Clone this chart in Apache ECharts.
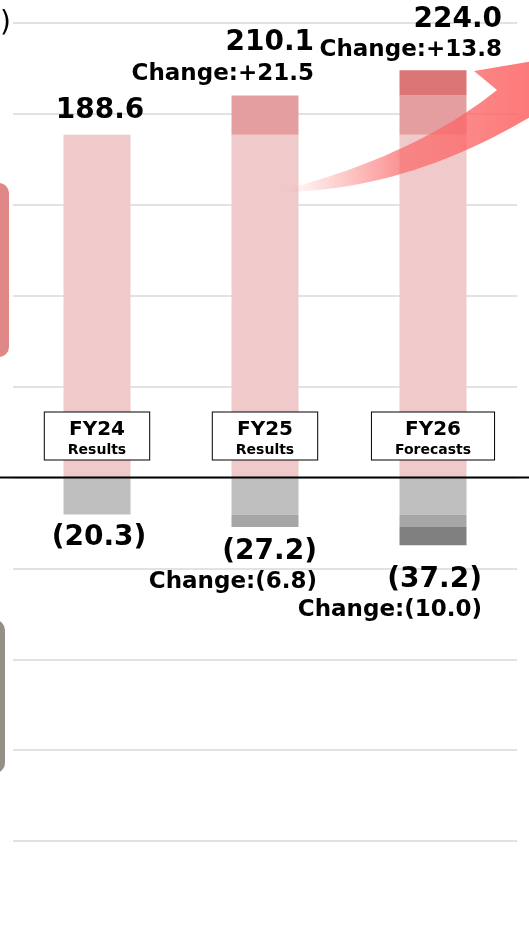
<!DOCTYPE html>
<html>
<head>
<meta charset="utf-8">
<script src="https://cdn.jsdelivr.net/npm/echarts@6/dist/echarts.min.js"></script>
<style>
html, body { margin: 0; padding: 0; background: #fff; }
#main { width: 529px; height: 929px; }
</style>
</head>
<body>
<div id="main"></div>
<script>
// data
const categories = ['FY24', 'FY25', 'FY26']
const periodNames = ['Results', 'Results', 'Forecasts']
const profitTotals = [188.6, 210.1, 224.0]
const profitChanges = [null, 21.5, 13.8]
const costTotals = [-20.3, -27.2, -37.2]
const costChanges = [null, -6.8, -10.0]

const profitColors = ['#f0c9ca', '#e59e9f', '#dc7576']
const costColors = ['#bfbfbf', '#a6a6a6', '#808080']

const fmt = v => v < 0 ? '(' + Math.abs(v).toFixed(1) + ')' : v.toFixed(1)
const fmtChange = v => 'Change:' + (v < 0 ? '(' + Math.abs(v).toFixed(1) + ')' : '+' + v.toFixed(1))

// layer i = the part added in year i, stacked on top of the earlier years
function layers(totals) {
    return totals.map((t, i) => categories.map((c, j) => {
        if (j < i) return '-'
        return i === 0 ? totals[0] : +(totals[i] - totals[i - 1]).toFixed(1)
    }))
}

// where the value label of each column sits (offset from the bar centre)
const profitLabelPos = [
    { offset: [3, 0], distance: 8, align: 'center' },
    { offset: [49, 0], distance: 7, align: 'right' },
    { offset: [69, 0], distance: 5, align: 'right' }
]
const costLabelPos = [
    { offset: [2, 0], distance: 8, align: 'center' },
    { offset: [52, 0], distance: 9, align: 'right' },
    { offset: [49, 0], distance: 19, align: 'right' }
]

function makeSeries(totals, changes, colors, labelPos, positive) {
    return layers(totals).map((layer, i) => ({
        type: 'bar',
        stack: 'total',
        barWidth: 67,
        itemStyle: { color: colors[i] },
        data: layer.map((v, j) => {
            if (j !== i) return v
            const p = labelPos[j]
            let text = '{v|' + fmt(totals[j]) + '}'
            if (changes[j] !== null) text += '\n{c|' + fmtChange(changes[j]) + '}'
            return {
                value: v,
                label: {
                    show: true,
                    position: positive ? 'top' : 'bottom',
                    distance: p.distance,
                    offset: p.offset,
                    align: p.align,
                    formatter: text,
                    rich: {
                        v: { fontSize: 28, fontWeight: 'bold', lineHeight: 31, color: '#000', align: p.align },
                        c: { fontSize: 23, fontWeight: 'bold', lineHeight: 30, color: '#000', align: p.align }
                    }
                }
            }
        })
    }))
}

const option = {
    animation: false,
    textStyle: { fontFamily: 'DejaVu Sans' },
    grid: { left: 13, right: 12, top: 23, height: 909, outerBoundsMode: 'none' },
    xAxis: {
        type: 'category',
        data: categories,
        z: 10,
        axisLine: { show: false, onZero: false },
        axisTick: { show: false },
        axisLabel: {
            inside: true,
            interval: 0,
            margin: 18,
            formatter: (v, i) => '{t|' + v + '}\n{s|' + periodNames[i] + '}',
            backgroundColor: '#fff',
            borderColor: '#000',
            borderWidth: 1,
            padding: [5, 23, 0, 23],
            rich: {
                t: { fontSize: 20, fontWeight: 'bold', lineHeight: 24, color: '#000', align: 'center' },
                s: { fontSize: 14, fontWeight: 'bold', lineHeight: 18, color: '#000', align: 'center' }
            }
        }
    },
    yAxis: {
        type: 'value',
        min: -250,
        max: 250,
        interval: 50,
        axisLabel: { show: false },
        axisLine: { show: false },
        axisTick: { show: false },
        splitLine: { lineStyle: { color: '#d9d9d9', width: 1.5 } }
    },
    series: [
        ...makeSeries(profitTotals, profitChanges, profitColors, profitLabelPos, true),
        ...makeSeries(costTotals, costChanges, costColors, costLabelPos, false)
    ]
}

const chart = echarts.init(document.getElementById('main'))
chart.setOption(option)

// move the category axis (with its boxed labels) up to the zero value
const zeroY = chart.convertToPixel({ yAxisIndex: 0 }, 0)
const bottomY = chart.convertToPixel({ yAxisIndex: 0 }, -250)

// quadratic curve sampled into points, for the decorative arrow
function quad(p0, c, p1, n) {
    const pts = []
    for (let k = 0; k <= n; k++) {
        const t = k / n
        pts.push([
            (1 - t) * (1 - t) * p0[0] + 2 * (1 - t) * t * c[0] + t * t * p1[0],
            (1 - t) * (1 - t) * p0[1] + 2 * (1 - t) * t * c[1] + t * t * p1[1]
        ])
    }
    return pts
}
const arrowPts = [
    ...quad([283, 190], [416, 155], [497, 90], 24),
    [474, 71], [610, 48], [600, 150],
    ...quad([545, 108], [414, 190], [283, 192], 24)
]

chart.setOption({
    xAxis: { offset: zeroY - bottomY },
    graphic: [
        { type: 'rect', z: 1, shape: { x: -30, y: 183, width: 39, height: 174, r: 10 }, style: { fill: '#e08888' } },
        { type: 'rect', z: 1, shape: { x: -30, y: 620, width: 35, height: 153, r: 10 }, style: { fill: '#958f87' } },
        { type: 'text', z: 1, style: { text: ')', x: 0, y: 24, verticalAlign: 'middle', font: '28px "DejaVu Sans"', fill: '#000' } },
        {
            type: 'polygon', z: 5,
            shape: { points: arrowPts },
            style: {
                fill: {
                    type: 'linear', x: 0, y: 0, x2: 1, y2: 0,
                    colorStops: [
                        { offset: 0, color: 'rgba(255,120,120,0)' },
                        { offset: 0.35, color: 'rgba(250,105,105,0.7)' },
                        { offset: 1, color: 'rgba(255,95,95,0.95)' }
                    ]
                }
            }
        },
        { type: 'line', z: 10, shape: { x1: 0, y1: zeroY, x2: 529, y2: zeroY }, style: { stroke: '#000', lineWidth: 2 } }
    ]
})
</script>
</body>
</html>
